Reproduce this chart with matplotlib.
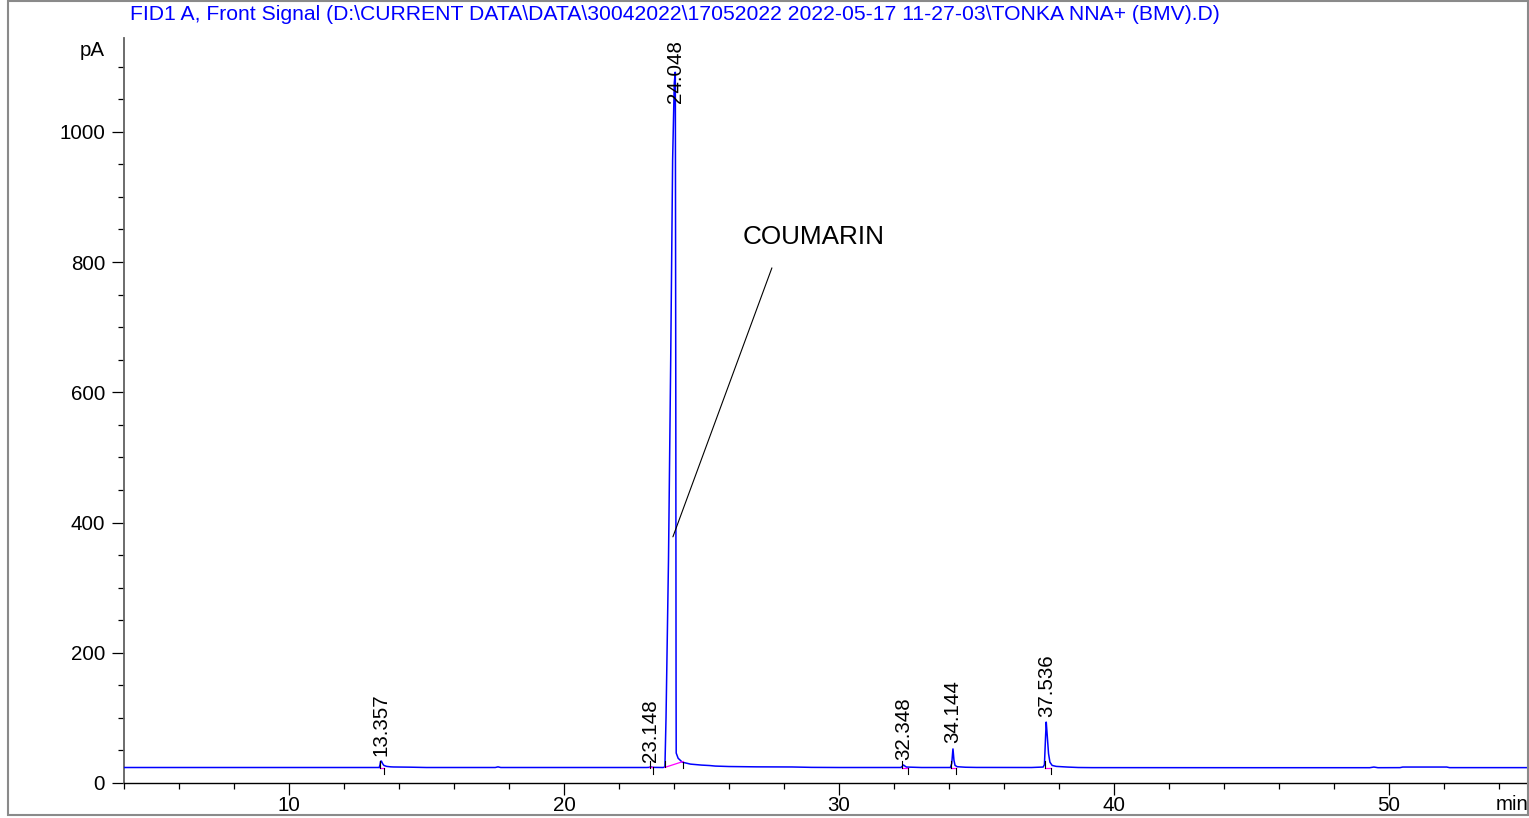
import matplotlib
matplotlib.use("Agg")
import matplotlib.pyplot as plt
from matplotlib.ticker import MultipleLocator
from matplotlib.patches import Rectangle

plt.rcParams['font.family'] = ['Liberation Sans', 'DejaVu Sans']

TITLE = "FID1 A, Front Signal (D:\\CURRENT DATA\\DATA\\30042022\\17052022 2022-05-17 11-27-03\\TONKA NNA+ (BMV).D)"

# chromatogram trace (min, pA)
trace_time = [4.0, 8.0, 12.0, 13.28, 13.31, 13.33, 13.357, 13.40, 13.45, 13.55, 13.7,
              13.8, 14.4, 15.0, 17.5, 17.6, 17.7, 23.0, 23.10, 23.148, 23.20, 23.60,
              23.67, 23.71, 23.80, 23.88, 23.95, 24.01, 24.048, 24.065, 24.075, 24.08,
              24.15, 24.30, 24.6, 25.0, 25.3, 25.5, 26.0, 27.0, 28.3, 29.0, 30.0,
              32.25, 32.348, 32.45, 33.0, 34.05, 34.10, 34.144, 34.18, 34.22, 34.30,
              34.6, 35.0, 37.0, 37.42, 37.47, 37.51, 37.536, 37.56, 37.62, 37.67,
              37.75, 37.9, 38.3, 38.7, 39.2, 45.0, 49.3, 49.45, 49.6, 50.4, 50.5,
              52.1, 52.2, 55.0]
trace_pA = [23.8, 23.8, 23.8, 23.8, 28.0, 33.0, 34.0, 30.0, 27.0, 25.5, 24.8,
            24.6, 24.3, 23.8, 23.8, 24.8, 23.8, 23.8, 24.0, 25.0, 24.0, 23.8,
            24.5, 100.0, 343.0, 650.0, 957.0, 1075.0, 1092.0, 600.0, 150.0, 46.0,
            38.0, 32.0, 29.0, 27.5, 26.8, 26.0, 25.3, 24.8, 24.6, 24.0, 23.8,
            23.8, 27.5, 24.5, 23.8, 23.8, 30.0, 53.0, 35.0, 27.0, 25.0,
            24.2, 23.9, 23.8, 24.5, 28.0, 70.0, 94.0, 80.0, 45.0, 32.0,
            27.0, 25.5, 24.5, 23.8, 23.6, 23.5, 23.5, 24.5, 23.5, 23.6, 24.5,
            24.5, 23.6, 23.6]

# integrated peaks
peak_rt = [13.357, 23.148, 24.048, 32.348, 34.144, 37.536]
peak_labels = ["13.357", "23.148", "24.048", "32.348", "34.144", "37.536"]
peak_top = [34.0, 25.0, 1092.0, 27.5, 53.0, 94.0]
peak_start = [13.31, 23.13, 23.67, 32.28, 34.07, 37.49]
peak_end = [13.45, 23.24, 24.33, 32.51, 34.25, 37.72]
base_start = [23.8, 23.8, 24.0, 23.8, 23.8, 23.8]
base_end = [23.8, 24.0, 33.0, 23.8, 23.8, 23.8]

W, H = 1529, 818
FS = 14.8
fig = plt.figure(figsize=(W / 100, H / 100), dpi=100)
ax = fig.add_axes([124 / W, 35 / H, (1526.5 - 124) / W, 745 / H])
ax.set_xlim(4, 55)
ax.set_ylim(0, 1144)

ax.plot(trace_time, trace_pA, color='#0000FF', lw=1.1, zorder=3, solid_joinstyle='miter')

# baselines and peak markers
mk = 10.0
for i in range(len(peak_rt)):
    ax.plot([peak_start[i], peak_end[i]], [base_start[i], base_end[i]],
            color='#FF00FF', lw=0.9, zorder=4)
    ax.plot([peak_start[i], peak_start[i]], [base_start[i], base_start[i] + mk],
            color='black', lw=0.8, zorder=5)
    ax.plot([peak_end[i], peak_end[i]], [base_end[i], base_end[i] - mk],
            color='black', lw=0.8, zorder=5)
    ytop = ax.get_ylim()[1]
    if peak_top[i] + 110 > ytop:
        ax.text(peak_rt[i], ytop - 3, peak_labels[i], rotation=90, ha='center',
                va='top', fontsize=FS, zorder=6)
    else:
        ax.annotate(peak_labels[i], xy=(peak_rt[i], peak_top[i]), xytext=(0, 5),
                    textcoords='offset pixels', rotation=90, ha='center',
                    va='bottom', fontsize=FS, zorder=6)

# compound annotation
ax.annotate('', xy=(23.96, 378), xytext=(27.56, 791),
            arrowprops=dict(arrowstyle='-', color='black', lw=0.8,
                            shrinkA=0, shrinkB=0))
ax.text(26.5, 838, 'COUMARIN', ha='left', va='center', fontsize=18.8)

# axes styling
for s in ['top', 'right']:
    ax.spines[s].set_visible(False)
ax.spines['left'].set_color('#606060')
ax.spines['left'].set_linewidth(1.3)
ax.spines['bottom'].set_color('black')
ax.spines['bottom'].set_linewidth(1.0)

ax.xaxis.set_major_locator(MultipleLocator(10))
ax.xaxis.set_minor_locator(MultipleLocator(2))
ax.yaxis.set_major_locator(MultipleLocator(200))
ax.yaxis.set_minor_locator(MultipleLocator(50))
ax.tick_params(axis='both', which='major', length=8.6, width=0.9, color='black',
               labelsize=FS)
ax.tick_params(axis='both', which='minor', length=4.0, width=0.9, color='black')
ax.tick_params(axis='x', which='major', pad=0.5)
ax.tick_params(axis='y', which='major', pad=5)
ax.set_xticks([10, 20, 30, 40, 50])
ax.set_yticks([0, 200, 400, 600, 800, 1000])

fig.text(105 / W, 1 - 50 / H, 'pA', ha='right', va='center', fontsize=FS)
fig.text(1512 / W, 1 - 805 / H, 'min', ha='center', va='center', fontsize=FS)
fig.text(130 / W, 1 - 15 / H, TITLE, ha='left', va='center', fontsize=15.2,
         color='#0000FF')

fig.patches.append(Rectangle((8 / W, 3 / H), 1520 / W, 814 / H, transform=fig.transFigure,
                             fill=False, edgecolor='#8a8a8a', lw=1.5))

fig.savefig('out.png', dpi=100)
